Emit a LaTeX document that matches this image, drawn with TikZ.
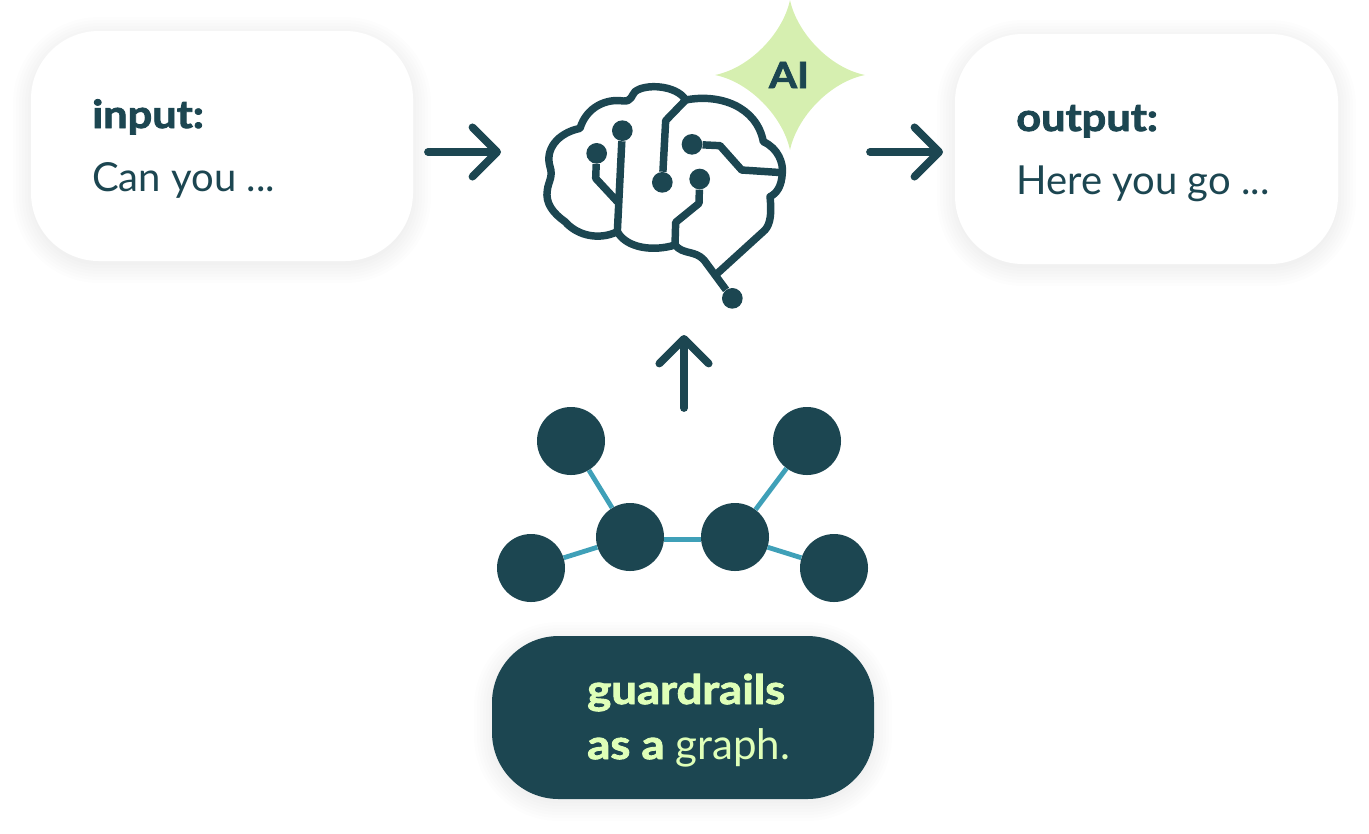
\documentclass[tikz,border=0pt]{standalone}
\usepackage{fontspec}
\setmainfont{Lato}
\usepackage{xcolor}
\usetikzlibrary{arrows.meta,positioning}
\definecolor{darkteal}{HTML}{1C4651}
\definecolor{edgeblue}{HTML}{3FA0B8}
\definecolor{starlime}{HTML}{D6EFB0}
\definecolor{textlime}{HTML}{DFFFB8}
\newfontfamily\heavyfont[BoldFeatures={FakeBold=2.2,FakeStretch=1.12}]{Lato}
\tikzset{
  brainline/.style={draw=darkteal, line width=5.6pt, line join=round},
  braindot/.style={circle, fill=darkteal, inner sep=0pt, minimum size=15.5pt},
  flowarrow/.style={draw=darkteal, line width=5.8pt, line cap=round,
    -{Straight Barb[length=18.5pt, width=37pt, round]}},
  graphdot/.style={circle, fill=darkteal, inner sep=0pt, minimum size=51pt},
  graphedge/.style={draw=edgeblue, line width=3.6pt},
  boxlabel/.style={anchor=base west, text=darkteal, font=\fontsize{30pt}{36pt}\selectfont, inner sep=0pt},
  boxtitle/.style={boxlabel, font=\fontsize{29pt}{36pt}\heavyfont\bfseries},
  guardlabel/.style={anchor=base west, text=textlime, font=\fontsize{31.5pt}{36pt}\selectfont, inner sep=0pt},
}
% soft shadow, then the box on top
\newcommand{\softbox}[6]{%
  \foreach \grow in {18,15,12,9,6,3,0} {
    \fill[black, opacity=0.007, rounded corners={#5+\grow*0.75pt}]
      (#1-\grow,#2-\grow+4) rectangle (#3+\grow,#4+\grow+4);
  }
  \fill[#6, rounded corners=#5] (#1,#2) rectangle (#3,#4);
}
\begin{document}
\begin{tikzpicture}[x=0.75pt, y=-0.75pt]
\useasboundingbox (0,0) rectangle (1369,833);
%
\softbox{31}{31}{413}{261}{51pt}{white}
\softbox{955}{34}{1338}{264}{51pt}{white}
\softbox{492}{636}{874}{799}{50pt}{darkteal}
%
\node[boxtitle] (inputtitle) at (92,128) {input:};
\node[boxlabel] (inputtext) at (92,191) {Can you ...};
\node[boxtitle] (outputtitle) at (1016,131) {output:};
\node[boxlabel] (outputtext) at (1016,194) {Here you go ...};
\node[guardlabel] (guardtitle) at (587,704) {\fontsize{30.5pt}{36pt}\heavyfont\bfseries guardrails};
\node[guardlabel] (guardtext) at (587,759) {{\fontsize{30.5pt}{36pt}\heavyfont\bfseries as a} graph.};
%
% star
\fill[starlime] (790,0) .. controls (797,33) and (830,68) .. (865,75)
  .. controls (830,82) and (797,117) .. (790,150)
  .. controls (783,117) and (750,82) .. (715,75)
  .. controls (750,68) and (783,33) .. (790,0) -- cycle;
\node[text=darkteal, font=\fontsize{27pt}{30pt}\heavyfont\bfseries, inner sep=0pt] (ailabel) at (789,75) {AI};
%
% brain
\begin{scope}[shift={(390pt,0pt)}, x=0.25pt, y=-0.25pt]
\node[braindot] (dota) at (230,460) {};
\node[braindot] (dotb) at (307,392) {};
\node[braindot] (dotc) at (427,547) {};
\node[braindot] (dotd) at (516,433) {};
\node[braindot] (dote) at (539,537) {};
\node[braindot] (dotf) at (637,895) {};
\coordinate (top) at (497,300);
\coordinate (lowleft) at (292,695);
\coordinate (lowmid) at (465,735);
\coordinate (stem) at (590,822);
\coordinate (side) at (787,518);
\path[brainline] (top) .. controls (470,255) and (375,250) .. (345,275)
  .. controls (335,285) and (335,305) .. (310,303)
  .. controls (260,295) and (200,320) .. (180,385)
  .. controls (110,400) and (75,450) .. (90,500)
  .. controls (100,530) and (85,545) .. (82,570)
  .. controls (75,610) and (100,640) .. (135,665)
  .. controls (175,710) and (240,720) .. (lowleft)
  .. controls (320,745) and (400,755) .. (lowmid)
  .. controls (490,765) and (525,750) .. (552,780)
  -- (dotf);
\path[brainline] (top) .. controls (600,280) and (710,320) .. (730,425)
  .. controls (775,445) and (790,490) .. (side)
  .. controls (785,560) and (770,580) .. (750,590)
  .. controls (755,640) and (752,670) .. (735,690)
  -- (stem);
\path[brainline] (top) -- (437,362) -- (dotc);
\path[brainline] (dotb) -- (lowleft);
\path[brainline] (dota) -- (227,535) -- (292,605);
\path[brainline] (dotd) -- (600,437) -- (665,510) -- (side);
\path[brainline] (dote) -- (537,610) -- (467,667) -- (lowmid);
\end{scope}
%
\coordinate (inputfrom) at (428,152);
\coordinate (inputto) at (501,152);
\coordinate (outputfrom) at (870,152);
\coordinate (outputto) at (943,152);
\coordinate (graphfrom) at (684,408);
\coordinate (graphto) at (684,335);
\path[flowarrow] (inputfrom) -- (inputto);
\path[flowarrow] (outputfrom) -- (outputto);
\path[flowarrow] (graphfrom) -- (graphto);
%
% graph
\node[graphdot] (g1) at (571,441) {};
\node[graphdot] (g2) at (807,441) {};
\node[graphdot] (g3) at (531,568) {};
\node[graphdot] (g4) at (630,537) {};
\node[graphdot] (g5) at (735,537) {};
\node[graphdot] (g6) at (834,568) {};
\draw[graphedge] (g1) -- (g4);
\draw[graphedge] (g3) -- (g4);
\draw[graphedge] ([yshift=-2pt]g4.east) -- ([yshift=-2pt]g5.west);
\draw[graphedge] (g5) -- (g2);
\draw[graphedge] (g5) -- (g6);
\end{tikzpicture}
\end{document}
